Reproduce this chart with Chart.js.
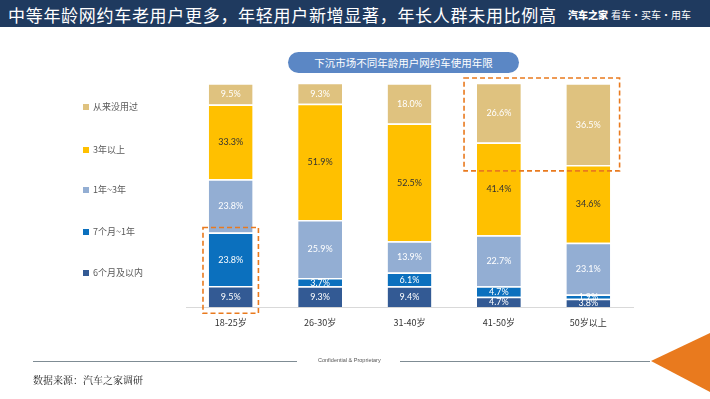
<!DOCTYPE html>
<html>
<head>
<meta charset="utf-8">
<script src="https://cdn.jsdelivr.net/npm/chart.js@4/dist/chart.umd.min.js"></script>
<style>
  html, body { margin: 0; padding: 0; background: #fff; }
  #page { position: relative; width: 710px; height: 399px; overflow: hidden; font-family: "Noto Sans CJK SC", "Noto Sans", sans-serif; }
  #header { position: absolute; left: 0; top: 0; width: 710px; height: 27px; background: #1F3A5F; }
  #title { position: absolute; left: 8px; top: 2px; color: #fff; font-size: 17px; font-weight: 400; letter-spacing: 0.7px; white-space: nowrap; }
  #logo { position: absolute; left: 568px; top: 7px; color: #fff; font-size: 10px; white-space: nowrap; }
  #logo b { font-weight: 900; margin-right: 3px; }
  #pill { position: absolute; left: 288px; top: 52px; width: 231px; height: 21px; border-radius: 11px; background: #5B87C5; color: #fff; font-size: 10.5px; line-height: 21px; text-align: center; }
  canvas { position: absolute; left: 0; top: 0; }
  #legend { position: absolute; left: 0; top: 0; }
  .li { position: absolute; left: 83px; font-size: 9px; color: #595959; white-space: nowrap; line-height: 12px; }
  .li i { display: inline-block; width: 6px; height: 6px; margin-right: 4px; vertical-align: 0px; }
  .rule { position: absolute; top: 361px; height: 1px; background: #7F8C94; }
  #conf { position: absolute; left: 318px; top: 357px; font-size: 5.5px; color: #555; font-family: "Liberation Sans", sans-serif; white-space: nowrap; }
  #src { position: absolute; left: 33px; top: 372px; font-size: 10px; color: #222; font-family: "Noto Serif CJK SC", "Noto Sans CJK SC", serif; }
  #tri { position: absolute; left: 0; top: 0; }
</style>
</head>
<body>
<div id="page">
  <div id="header">
    <div id="title">中等年龄网约车老用户更多，年轻用户新增显著，年长人群未用比例高</div>
    <div id="logo"><b>汽车之家</b>看车·买车·用车</div>
  </div>
  <div id="pill">下沉市场不同年龄用户网约车使用年限</div>
  <canvas id="chart" width="710" height="399"></canvas>
  <div id="legend"></div>
  <div class="rule" style="left:33px; width:264px;"></div>
  <div class="rule" style="left:400px; width:250px;"></div>
  <div id="conf">Confidential &amp; Proprietary</div>
  <div id="src">数据来源：汽车之家调研</div>
  <svg id="tri" width="710" height="399"><polygon points="651,361 710,333 710,392" fill="#E97A1E"/></svg>
</div>
<script>
const categories = ["18-25岁", "26-30岁", "31-40岁", "41-50岁", "50岁以上"];
const seriesNames = ["6个月及以内", "7个月~1年", "1年~3年", "3年以上", "从来没用过"];
const within6m = [9.5, 9.3, 9.4, 4.7, 3.8];
const m7to1y = [23.8, 3.7, 6.1, 4.7, 1.9];
const y1to3 = [23.8, 25.9, 13.9, 22.7, 23.1];
const over3y = [33.3, 51.9, 52.5, 41.4, 34.6];
const neverUsed = [9.5, 9.3, 18.0, 26.6, 36.5];

const colors = ["#335A94", "#0B70BE", "#93AED3", "#FFC000", "#DFC27F"];
const labelColors = ["#fff", "#fff", "#fff", "#333", "#fff"];
const legendY = [273, 232, 190, 150, 107];

const seriesData = [within6m, m7to1y, y1to3, over3y, neverUsed];

// labels inside each segment
const segmentLabels = {
  id: "segmentLabels",
  afterDatasetsDraw(chart) {
    const ctx = chart.ctx;
    ctx.save();
    ctx.font = "9px Lato, 'Open Sans', sans-serif";
    ctx.textAlign = "center";
    ctx.textBaseline = "middle";
    chart.data.datasets.forEach((ds, i) => {
      chart.getDatasetMeta(i).data.forEach((bar, j) => {
        const p = bar.getProps(["x", "y", "base"], true);
        ctx.fillStyle = labelColors[i];
        ctx.fillText(ds.data[j].toFixed(1) + "%", p.x, (p.y + p.base) / 2 + 0.5);
      });
    });
    ctx.restore();
  }
};

// orange dashed highlight boxes
const highlightBoxes = {
  id: "highlightBoxes",
  afterDatasetsDraw(chart) {
    const ctx = chart.ctx;
    const x = chart.scales.x, y = chart.scales.y;
    const step = x.getPixelForValue(1) - x.getPixelForValue(0);
    ctx.save();
    ctx.strokeStyle = "#E97A1E";
    ctx.lineWidth = 1.6;
    ctx.setLineDash([5, 3]);
    // 18-25: first two segments
    const x0 = x.getPixelForValue(0);
    const top0 = y.getPixelForValue(within6m[0] + m7to1y[0]);
    ctx.strokeRect(x0 - step * 0.31, top0 - 5, step * 0.62, y.getPixelForValue(0) + 6 - (top0 - 5));
    // 41-50 & 50+: never used
    const x3 = x.getPixelForValue(3), x4 = x.getPixelForValue(4);
    const bot = y.getPixelForValue(100 - neverUsed[4]) + 6;
    const top = y.getPixelForValue(100) - 5;
    ctx.strokeRect(x3 - step * 0.39, top, x4 - x3 + step * 0.74, bot - top);
    ctx.restore();
  }
};

const chart = new Chart(document.getElementById("chart").getContext("2d"), {
  type: "bar",
  data: {
    labels: categories,
    datasets: seriesNames.map((name, i) => ({
      label: name,
      data: seriesData[i],
      backgroundColor: colors[i],
      borderColor: "#fff",
      borderWidth: { top: 1.5, bottom: 0, left: 0, right: 0 },
      borderSkipped: false,
      categoryPercentage: 1,
      barPercentage: 0.49
    }))
  },
  options: {
    responsive: false,
    animation: false,
    layout: { padding: { left: 186, right: 77, top: 83, bottom: 69 } },
    plugins: { legend: { display: false }, tooltip: { enabled: false } },
    scales: {
      x: {
        stacked: true,
        grid: { display: false },
        border: { color: "#D9D9D9" },
        ticks: { color: "#333", font: { size: 9, family: "'Noto Sans CJK SC', sans-serif" }, padding: 2 }
      },
      y: { stacked: true, display: false, min: 0, max: 100 }
    }
  },
  plugins: [segmentLabels, highlightBoxes]
});

// legend on the left
const legend = document.getElementById("legend");
seriesNames.forEach((name, i) => {
  const d = document.createElement("div");
  d.className = "li";
  d.style.top = (legendY[i] - 6) + "px";
  d.innerHTML = '<i style="background:' + colors[i] + '"></i>' + name;
  legend.appendChild(d);
});
</script>
</body>
</html>
